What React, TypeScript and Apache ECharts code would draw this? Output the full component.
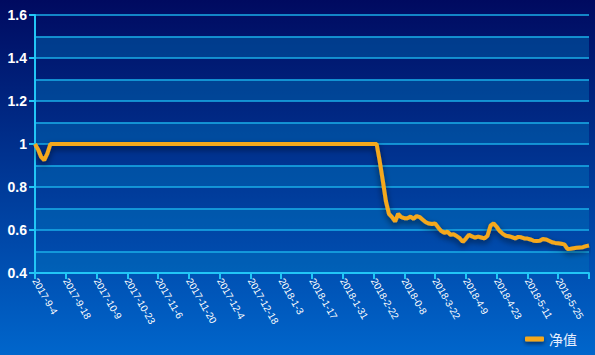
import React, { useEffect, useRef } from 'react';
import * as echarts from 'echarts';

// x-axis tick labels (one every 10 trading days)
const tickLabels = [
  '2017-9-4', '2017-9-18', '2017-10-9', '2017-10-23', '2017-11-6', '2017-11-20',
  '2017-12-4', '2017-12-18', '2018-1-3', '2018-1-17', '2018-1-31', '2018-2-22',
  '2018-0-8', '2018-3-22', '2018-4-9', '2018-4-23', '2018-5-11', '2018-5-25',
];

// net value: opening dip
const navStart = [1.0, 0.975, 0.94, 0.925, 0.955, 1.0];

// net value: plateau
const navPlateau = [
  1, 1, 1, 1, 1, 1, 1, 1, 1, 1,
  1, 1, 1, 1, 1, 1, 1, 1, 1, 1,
  1, 1, 1, 1, 1, 1, 1, 1, 1, 1,
  1, 1, 1, 1, 1, 1, 1, 1, 1, 1,
  1, 1, 1, 1, 1, 1, 1, 1, 1, 1,
  1, 1, 1, 1, 1, 1, 1, 1, 1, 1,
  1, 1, 1, 1, 1, 1, 1, 1, 1, 1,
  1, 1, 1, 1, 1, 1, 1, 1, 1, 1,
  1, 1, 1, 1, 1, 1, 1, 1, 1, 1,
  1, 1, 1, 1, 1, 1, 1, 1, 1, 1,
  1, 1, 1, 1, 1, 1,
];

// net value: decline
const navDecline = [
  0.92, 0.83, 0.735, 0.675, 0.66, 0.64, 0.675, 0.66, 0.655, 0.655,
  0.662, 0.652, 0.665, 0.66, 0.648, 0.636, 0.63, 0.628, 0.631, 0.612,
  0.595, 0.587, 0.592, 0.578, 0.58, 0.572, 0.562, 0.545, 0.56, 0.578,
  0.57, 0.565, 0.569, 0.565, 0.561, 0.572, 0.62, 0.631, 0.615, 0.595,
  0.582, 0.573, 0.571, 0.567, 0.561, 0.568, 0.566, 0.561, 0.56, 0.556,
  0.55, 0.549, 0.55, 0.558, 0.556, 0.55, 0.543, 0.54, 0.538, 0.536,
  0.533, 0.512, 0.513, 0.515, 0.517, 0.519, 0.52, 0.525, 0.528,
];

const seriesName = '净值';
const LABEL_STEP = 10;

export default function App() {
  const ref = useRef<HTMLDivElement>(null);

  useEffect(() => {
    const values = [...navStart, ...navPlateau, ...navDecline];
    const categories = values.map((_, i) =>
      i % LABEL_STEP === 0 && tickLabels[i / LABEL_STEP] ? tickLabels[i / LABEL_STEP] : '#' + i
    );

    const chart = echarts.init(ref.current!, null, { renderer: 'svg' });
    const axisCyan = '#22c6f6';
    const splitCyan = '#1aaee8';
    const lineColor = '#f5a81c';
    chart.setOption({
      animation: false,
      backgroundColor: 'transparent',
      grid: { left: 35, right: 6, top: 15, bottom: 82, containLabel: false },
      legend: {
        right: 13,
        bottom: 4,
        icon: 'roundRect',
        itemWidth: 19,
        itemHeight: 5,
        itemGap: 10,
        itemStyle: {
          color: lineColor,
          shadowColor: 'rgba(0,0,20,0.55)',
          shadowBlur: 4,
          shadowOffsetY: 2,
        },
        textStyle: { color: '#e8f0ff', fontSize: 14, fontFamily: 'Noto Sans CJK SC' },
        data: [seriesName],
      },
      xAxis: {
        type: 'category',
        boundaryGap: false,
        data: categories,
        axisLine: { lineStyle: { color: axisCyan, width: 2 } },
        axisTick: { interval: LABEL_STEP - 1, length: 6, lineStyle: { color: axisCyan, width: 2 } },
        axisLabel: {
          interval: LABEL_STEP - 1,
          rotate: -60,
          color: '#ffffff',
          fontSize: 10,
          fontFamily: 'Liberation Sans',
          margin: 6,
          formatter: (v: string) => (v.startsWith('#') ? '' : v),
        },
        splitLine: { show: false },
      },
      yAxis: [
        {
          type: 'value',
          min: 0.4,
          max: 1.6,
          interval: 0.2,
          axisLine: { show: true, lineStyle: { color: axisCyan, width: 2 } },
          axisTick: { show: true, length: 6, lineStyle: { color: axisCyan, width: 2 } },
          axisLabel: {
            color: '#ffffff',
            fontSize: 14,
            fontWeight: 'bold',
            fontFamily: 'Liberation Sans',
            margin: 8,
          },
          splitLine: { show: false },
        },
        {
          type: 'value',
          min: 0.4,
          max: 1.6,
          interval: 0.1,
          position: 'left',
          axisLine: { show: false },
          axisTick: { show: false },
          axisLabel: { show: false },
          splitLine: { show: true, lineStyle: { color: splitCyan, width: 1.5 } },
          splitArea: {
            show: true,
            areaStyle: { color: ['rgba(0,120,190,0.4)', 'rgba(0,0,0,0)'] },
          },
        },
      ],
      series: [
        {
          name: seriesName,
          type: 'line',
          yAxisIndex: 0,
          data: values,
          symbol: 'none',
          lineStyle: {
            color: lineColor,
            width: 4,
            shadowColor: 'rgba(0,0,20,0.55)',
            shadowBlur: 6,
            shadowOffsetY: 3,
          },
          itemStyle: { color: lineColor },
        },
      ],
    });
    return () => chart.dispose();
  }, []);

  return (
    <div
      ref={ref}
      style={{
        position: 'fixed',
        left: 0,
        top: 0,
        width: 595,
        height: 355,
        background: 'linear-gradient(to bottom, #000a60 0%, #0066cc 100%)',
      }}
    />
  );
}
